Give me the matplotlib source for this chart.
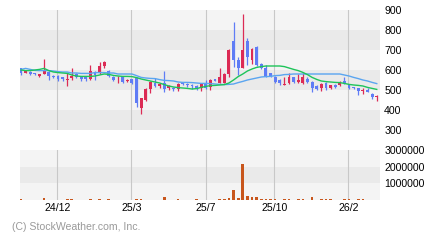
import matplotlib
matplotlib.use("Agg")
import matplotlib.pyplot as plt
import numpy as np

plt.rcParams['font.family'] = ['Liberation Sans', 'DejaVu Sans']

# Weekly OHLC
opens = [608, 587, 592, 583, 570, 580, 588, 570, 570, 563, 550, 558, 580, 567, 563, 555, 590, 583, 622, 597,
         567, 553, 567, 547, 553, 562, 412, 450, 505, 537, 520, 535, 512, 512, 507, 535, 532, 525, 520, 508,
         535, 513, 553, 537, 537, 580, 745, 650, 612, 745, 650, 717, 628, 612, 583, 567, 550, 525, 533, 563,
         542, 537, 557, 542, 520, 508, 537, 512, 527, 525, 543, 528, 513, 508, 497, 500, 480, 463]
highs = [612, 597, 595, 587, 582, 655, 593, 573, 573, 567, 587, 608, 583, 570, 567, 625, 593, 640, 645, 600,
         570, 570, 570, 557, 557, 565, 462, 508, 545, 558, 535, 595, 523, 515, 535, 542, 535, 528, 523, 532,
         550, 553, 557, 608, 583, 703, 842, 663, 880, 762, 708, 720, 633, 625, 587, 570, 553, 567, 587, 567,
         580, 583, 563, 545, 523, 533, 540, 527, 530, 543, 563, 532, 517, 512, 508, 508, 483, 473]
lows = [577, 583, 575, 577, 565, 578, 550, 560, 545, 547, 522, 550, 560, 547, 547, 550, 550, 580, 612, 567,
        545, 537, 533, 538, 532, 417, 382, 445, 487, 513, 508, 492, 500, 497, 497, 523, 515, 503, 500, 497,
        503, 500, 543, 533, 533, 563, 617, 575, 608, 625, 628, 620, 603, 563, 563, 533, 525, 525, 530, 537,
        533, 530, 537, 492, 500, 497, 500, 503, 508, 520, 530, 503, 503, 475, 480, 488, 457, 445]
closes = [587, 593, 580, 578, 578, 597, 570, 563, 557, 557, 555, 568, 563, 555, 555, 597, 573, 620, 640, 570,
          550, 557, 542, 552, 537, 437, 458, 505, 540, 520, 532, 507, 520, 505, 532, 528, 523, 518, 507, 528,
          508, 550, 547, 567, 580, 700, 650, 608, 700, 663, 705, 625, 612, 567, 570, 542, 537, 530, 563, 542,
          550, 563, 542, 508, 507, 530, 508, 523, 513, 540, 533, 508, 508, 497, 500, 492, 463, 470]

ma_short = [600, 597, 597, 600, 603, 608, 597, 590, 587, 585, 583, 575, 570, 568, 568, 568, 570, 575, 580, 578,
            573, 570, 568, 568, 567, 562, 555, 550, 545, 540, 535, 527, 520, 515, 512, 510, 508, 505, 507, 513,
            518, 522, 523, 525, 527, 535, 550, 567, 580, 595, 605, 613, 617, 620, 620, 620, 620, 617, 610, 603,
            597, 588, 577, 563, 553, 545, 542, 540, 538, 537, 533, 528, 525, 523, 520, 513, 508, 503]
ma_long = [603, 608, 603, 598, 597, 597, 597, 595, 592, 590, 590, 585, 585, 583, 583, 583, 587, 587, 587, 585,
           585, 580, 580, 580, 580, 572, 563, 560, 558, 557, 552, 548, 547, 545, 540, 538, 538, 537, 535, 533,
           533, 532, 530, 528, 527, 528, 530, 537, 543, 550, 555, 560, 565, 567, 568, 572, 573, 577, 578, 580,
           580, 580, 580, 580, 580, 580, 580, 580, 580, 580, 575, 570, 563, 557, 550, 545, 538, 532]

volume = [60000, 0, 0, 0, 0, 120000, 0, 0, 0, 0, 60000, 60000, 0, 0, 0, 60000, 0, 60000, 0, 60000,
          0, 0, 0, 0, 0, 60000, 60000, 0, 0, 0, 0, 180000, 0, 0, 60000, 0, 0, 0, 60000, 0,
          0, 0, 0, 60000, 60000, 140000, 600000, 120000, 2160000, 240000, 160000, 160000, 60000, 60000, 60000, 60000, 0, 60000, 60000, 0,
          60000, 60000, 0, 180000, 0, 60000, 60000, 60000, 0, 0, 60000, 60000, 0, 60000, 60000, 0, 0, 0]

tick_labels = ['24/12', '25/3', '25/7', '25/10', '26/2']
tick_pos = [7.86, 23.87, 39.98, 54.83, 70.84]
price_ticks = [300, 400, 500, 600, 700, 800, 900]
vol_ticks = [1000000, 2000000, 3000000]

RED = '#dc2b55'
BLUE = '#5f7cf5'
GREEN = '#1ec45a'
LBLUE = '#5aa5f0'
LIGHT = '#f4f4f4'
DARK = '#eaeaea'
GRID = '#c8c8c8'
VOLC = '#c8561c'

fig = plt.figure(figsize=(4.4, 2.4), dpi=100)
W, H = 440, 240
ax = fig.add_axes([20 / W, 1 - 130 / H, 360 / W, 120 / H])
axv = fig.add_axes([20 / W, 1 - 200 / H, 360 / W, 50 / H])

n = len(opens)
x = np.arange(n)
xlim = (-0.22, 77.7)

# price panel
for lo in range(300, 900, 100):
    ax.axhspan(lo, lo + 100, color=DARK if (lo // 100) % 2 == 1 else LIGHT, lw=0, zorder=0)
for t in tick_pos:
    ax.axvline(t, color=GRID, lw=0.8, zorder=1)
o = np.array(opens); c = np.array(closes); h = np.array(highs); l = np.array(lows)
up = c >= o
cols = np.where(up, RED, BLUE)
ax.vlines(x, l, h, colors=cols, lw=0.9, zorder=3)
bottoms = np.minimum(o, c)
heights = np.maximum(np.abs(c - o), 4)
ax.bar(x, heights, bottom=bottoms, width=0.62, color=cols, lw=0, zorder=4)
ax.plot(x, ma_long, color=LBLUE, lw=1.0, zorder=5)
ax.plot(x, ma_short, color=GREEN, lw=1.0, zorder=5)
ax.set_xlim(*xlim)
ax.set_ylim(300, 900)
ax.set_yticks(price_ticks)
ax.yaxis.tick_right()
ax.tick_params(axis='y', length=0, pad=3, labelsize=7.6)
ax.set_xticks([])
for s in ax.spines.values():
    s.set_visible(False)

# volume panel
bands = [(0, 1e6, LIGHT), (1e6, 2e6, DARK), (2e6, 3e6, LIGHT)]
for a, b, col in bands:
    axv.axhspan(a, b, color=col, lw=0, zorder=0)
for t in tick_pos:
    axv.axvline(t, color=GRID, lw=0.8, zorder=1)
axv.bar(x, volume, width=0.58, color=VOLC, lw=0, zorder=3)
axv.set_xlim(*xlim)
axv.set_ylim(0, 3000000)
axv.set_yticks(vol_ticks)
axv.set_yticklabels([str(v) for v in vol_ticks])
axv.yaxis.tick_right()
axv.tick_params(axis='y', length=0, pad=3, labelsize=7.6)
axv.set_xticks(tick_pos)
axv.set_xticklabels(tick_labels)
axv.tick_params(axis='x', length=0, pad=2, labelsize=7.6)
for s in axv.spines.values():
    s.set_visible(False)

fig.text(12 / W, 1 - 227 / H, '(C) StockWeather.com, Inc.', color='#9a9a9a',
         fontsize=7.6, va='center', ha='left')

fig.savefig('out.png', dpi=100, facecolor='white')
